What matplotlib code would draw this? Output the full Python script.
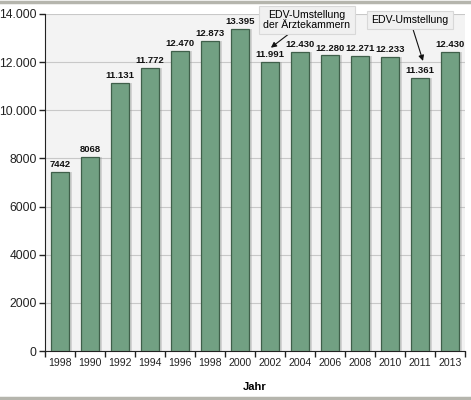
import numpy as np
import matplotlib
matplotlib.use('Agg')
import matplotlib.pyplot as plt
from matplotlib.lines import Line2D

plt.rcParams['font.family'] = ['Liberation Sans', 'DejaVu Sans']

years = ['1998', '1990', '1992', '1994', '1996', '1998', '2000', '2002',
         '2004', '2006', '2008', '2010', '2011', '2013']
values = [7442, 8068, 11131, 11772, 12470, 12873, 13395, 11991,
          12430, 12280, 12271, 12233, 11361, 12430]
yticks = [0, 2000, 4000, 6000, 8000, 10000, 12000, 14000]
ytick_labels = ['0', '2000', '4000', '6000', '8000', '10.000', '12.000', '14.000']

BAR = '#72a083'
EDGE = '#3f5f4a'

def fmt(v):
    return f'{v:,}'.replace(',', '.') if v >= 10000 else str(v)

fig = plt.figure(figsize=(4.71, 4.0), dpi=100)
ax = fig.add_axes([45/471, 49/400, 420/471, 337/400])
ax.set_facecolor('#f3f3f3')

x = np.arange(len(years))
# Schatten
ax.bar(x + 0.12, values, width=0.58, color='#9a9a9a', alpha=0.35, zorder=2, linewidth=0)
ax.bar(x, values, width=0.58, color=BAR, edgecolor=EDGE, linewidth=0.9, zorder=3)

for xi, v in zip(x, values):
    ax.text(xi, v + 120, fmt(v), ha='center', va='bottom', fontsize=6.8,
            fontweight='bold', color='#111111', zorder=4)

ax.set_xlim(-0.5, len(years) - 0.5)
ax.set_ylim(0, 14000)
ax.set_yticks(yticks)
ax.set_yticklabels(ytick_labels, fontsize=8.7, color='#222222')
ax.yaxis.grid(True, color='#c8c8c8', linewidth=0.8, zorder=0)
ax.set_axisbelow(True)

ax.set_xticks(x)
ax.set_xticklabels(years, fontsize=7.6, color='#222222')
ax.tick_params(axis='x', length=0, pad=5)
ax.set_xticks(np.arange(-0.5, len(years)), minor=True)
ax.tick_params(axis='x', which='minor', length=4, width=1, color='#222222')
ax.tick_params(axis='y', length=4, width=1, color='#222222', pad=2)

for s in ['top', 'right']:
    ax.spines[s].set_visible(False)
ax.spines['left'].set_color('#222222')
ax.spines['bottom'].set_color('#222222')

ax.set_xlabel('Jahr', fontsize=8, fontweight='bold', labelpad=10)

box = dict(boxstyle='square,pad=0.4', facecolor='#f0f0f0', edgecolor='#d8d8d8', linewidth=0.8)
arrow = dict(arrowstyle='-|>', color='#111111', lw=0.8, mutation_scale=8, shrinkA=0, shrinkB=0)
ax.annotate('EDV-Umstellung\nder Ärztekammern', xy=(7.03, 12600),
            xytext=(8.23, 13750), ha='center', va='center', fontsize=7.6,
            bbox=box, zorder=6, linespacing=1.0, arrowprops=arrow)
ax.annotate('EDV-Umstellung', xy=(12.1, 12050),
            xytext=(11.67, 13750), ha='center', va='center', fontsize=7.6,
            bbox=box, zorder=6, arrowprops=arrow)

fig.add_artist(Line2D([0, 1], [0.996, 0.996], color='#b5b5ad', lw=2.5, transform=fig.transFigure))
fig.add_artist(Line2D([0, 1], [0.004, 0.004], color='#b5b5ad', lw=2.5, transform=fig.transFigure))

fig.savefig('out.png', dpi=100)
